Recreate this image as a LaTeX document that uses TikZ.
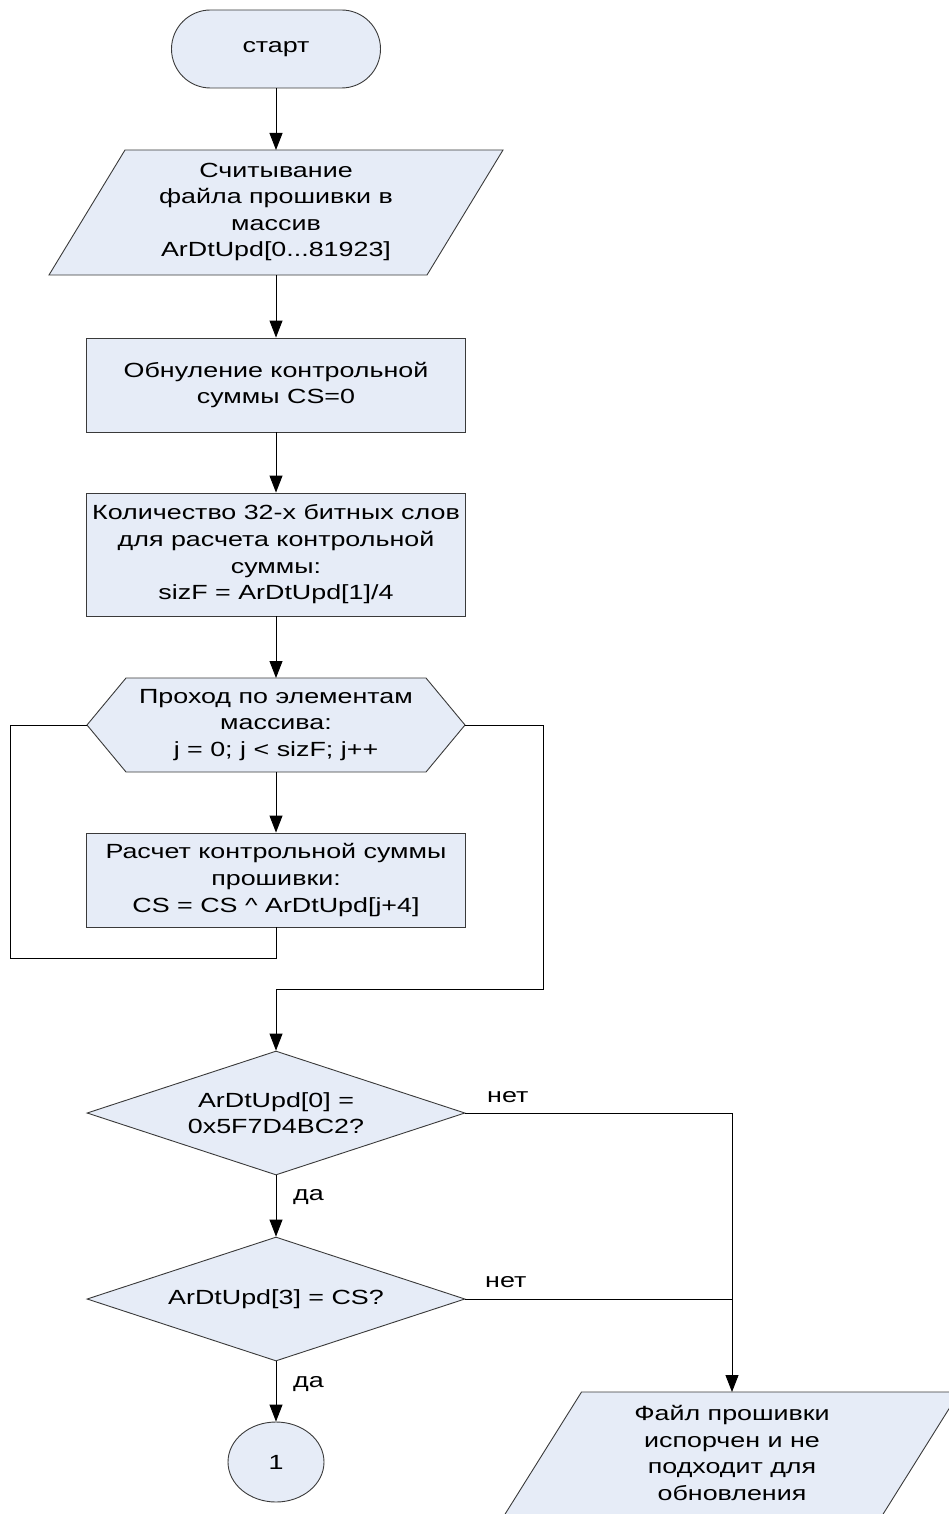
\documentclass[tikz,border=0pt]{standalone}
\usepackage{fontspec}
\setmainfont[FakeStretch=1.31]{Liberation Sans}
\usetikzlibrary{arrows.meta,shapes.geometric}
\definecolor{boxfill}{HTML}{E6ECF7}
\definecolor{boxline}{HTML}{3A3A3A}
\begin{document}
\begin{tikzpicture}[x=1pt,y=-1pt,
  shp/.style={draw=boxline,fill=boxfill,line width=0.9pt},
  txt/.style={align=center,font=\fontsize{20.5}{26.6}\selectfont,inner sep=0pt},
  conn/.style={draw=black,line width=0.9pt},
  arr/.style={conn,-{Triangle[width=13pt,length=17pt]}},
  lbl/.style={font=\fontsize{20.5}{26.6}\selectfont,inner sep=0pt,anchor=base west}]
\useasboundingbox (0,0) rectangle (948,1514);

% start
\node[shp,txt,rounded corners=39pt,minimum width=209pt,minimum height=78pt] (start) at (276,49) {старт};

% input parallelogram
\draw[shp] (125,150) -- (503,150) -- (427,275) -- (49,275) -- cycle;
\coordinate (p1t) at (276,150);
\coordinate (p1b) at (276,275);
\node[txt] (p1) at (276,212) {Считывание\\файла прошивки в\\массив\\ArDtUpd[0...81923]};

% rectangles
\node[shp,txt,minimum width=379pt,minimum height=94pt] (r1) at (276,385) {Обнуление контрольной\\суммы CS=0};
\node[shp,txt,minimum width=379pt,minimum height=123pt] (r2) at (276,554.5) {Количество 32-х битных слов\\для расчета контрольной\\суммы:\\sizF = ArDtUpd[1]/4};

% hexagon loop
\draw[shp] (87,725) -- (126,678) -- (426,678) -- (465,725) -- (426,772) -- (126,772) -- cycle;
\coordinate (hxl) at (87,725);
\coordinate (hxr) at (465,725);
\coordinate (hxt) at (276,678);
\coordinate (hxb) at (276,772);
\node[txt] (hx) at (276,725) {Проход по элементам\\массива:\\j = 0; j < sizF; j++};

\node[shp,txt,minimum width=379pt,minimum height=94pt] (r3) at (276,880) {Расчет контрольной суммы\\прошивки:\\CS = CS \^{} ArDtUpd[j+4]};

% decisions
\node[shp,txt,diamond,aspect=3,minimum width=378pt,minimum height=124pt] (d1) at (276,1113) {ArDtUpd[0] =\\0x5F7D4BC2?};
\node[shp,txt,diamond,aspect=3,minimum width=378pt,minimum height=124pt] (d2) at (276,1299) {ArDtUpd[3] = CS?};

% connector circle
\node[shp,txt,ellipse,minimum width=96pt,minimum height=80pt] (c1) at (276,1462) {1};

% output parallelogram
\draw[shp] (581.5,1392) -- (959.5,1392) -- (882.5,1515) -- (504.5,1515) -- cycle;
\coordinate (p2t) at (732,1392);
\node[txt] (p2) at (732,1453) {Файл прошивки\\испорчен и не\\подходит для\\обновления};

% loop corners
\coordinate (loopL) at (10,958);
\coordinate (loopR) at (543,989);

% connectors
\draw[arr] (start.south) -- (p1t);
\draw[arr] (p1b) -- (r1.north);
\draw[arr] (r1.south) -- (r2.north);
\draw[arr] (r2.south) -- (hxt);
\draw[arr] (hxb) -- (r3.north);
\draw[conn] (r3.south) |- (loopL) |- (hxl);
\draw[arr] (hxr) -| (loopR) -| (d1.north);
\draw[arr] (d1.south) -- (d2.north);
\draw[arr] (d2.south) -- (c1.north);
\draw[arr] (d1.east) -| (p2t);
\draw[conn] (d2.east) -- (d2.east -| p2t);

% labels
\node[lbl] (n1) at (487,1102) {нет};
\node[lbl] (n2) at (485,1287) {нет};
\node[lbl] (y1) at (293,1200) {да};
\node[lbl] (y2) at (293,1387) {да};
\end{tikzpicture}
\end{document}
